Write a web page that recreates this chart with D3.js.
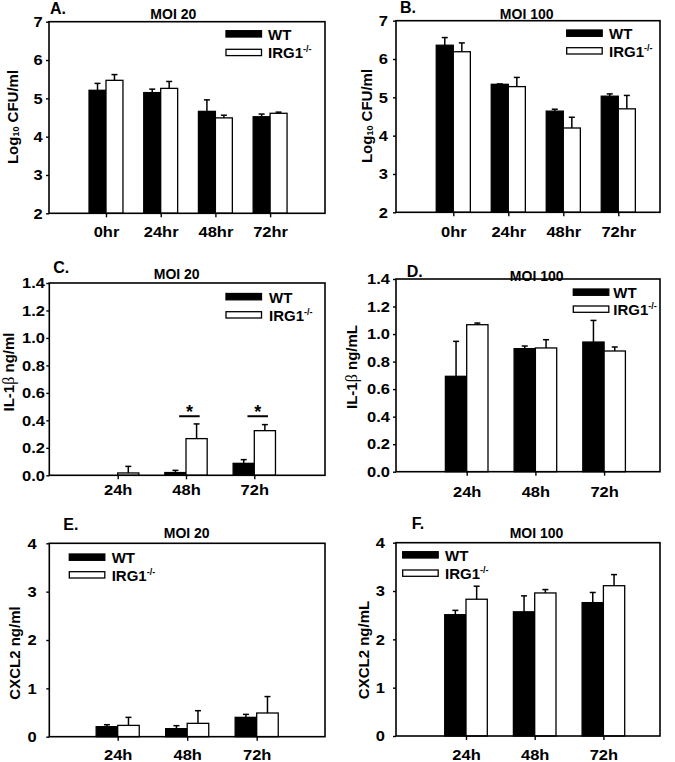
<!DOCTYPE html>
<html><head><meta charset="utf-8">
<script src="https://cdn.jsdelivr.net/npm/d3@7"></script>
<style>
body{margin:0;background:#fff}
svg{display:block}
text{font-family:"Liberation Sans",Arial,sans-serif;font-weight:bold;fill:#000}
.tick text{font-size:15px}
.lbl{font-size:14px}
.leg{font-size:15px}
.ylab{font-size:15px}
.plet{font-size:16px}
</style>
</head><body><svg id="chart" width="675" height="762"></svg>
<script>
// ---------- data ----------
const cfuTimes = ["0hr","24hr","48hr","72hr"];
const cytoTimes = ["24h","48h","72h"];
const seriesNames = ["WT","IRG1"];
const cfuTicks = [2,3,4,5,6,7];
const il1bTicks = [0,0.2,0.4,0.6,0.8,1.0,1.2,1.4];
const cxcl2Ticks = [0,1,2,3,4];

// A. CFU, MOI 20
const cfu20WT = [5.21,5.15,4.66,4.52];
const cfu20WTerr = [0.18,0.09,0.30,0.07];
const cfu20KO = [5.47,5.26,4.49,4.61];
const cfu20KOerr = [0.15,0.18,0.07,0.03];
// B. CFU, MOI 100
const cfu100WT = [6.36,5.34,4.64,5.03];
const cfu100WTerr = [0.20,0.01,0.05,0.06];
const cfu100KO = [6.19,5.28,4.20,4.70];
const cfu100KOerr = [0.23,0.24,0.28,0.35];
// C. IL-1b, MOI 20
const il20WT = [0,0.02,0.087];
const il20WTerr = [0,0.016,0.027];
const il20KO = [0.017,0.267,0.325];
const il20KOerr = [0.048,0.107,0.044];
const il20Sig = ["48h","72h"];
const il20SigLevel = 0.43;
// D. IL-1b, MOI 100
const il100WT = [0.693,0.894,0.942];
const il100WTerr = [0.254,0.019,0.157];
const il100KO = [1.068,0.899,0.877];
const il100KOerr = [0.012,0.06,0.029];
// E. CXCL2, MOI 20
const cx20WT = [0.207,0.166,0.40];
const cx20WTerr = [0.041,0.062,0.062];
const cx20KO = [0.234,0.276,0.49];
const cx20KOerr = [0.166,0.262,0.34];
// F. CXCL2, MOI 100
const cx100WT = [2.51,2.57,2.76];
const cx100WTerr = [0.09,0.33,0.21];
const cx100KO = [2.83,2.96,3.11];
const cx100KOerr = [0.27,0.07,0.23];

// ---------- layout ----------
const svg = d3.select("#chart");
const f1 = d3.format(".1f");
const SX = 1.1;

function stretch(sel, sx) {
  sel.each(function () {
    const t = d3.select(this);
    const x = +t.attr("x") || 0, y = +t.attr("y") || 0;
    t.attr("x", 0).attr("y", 0).attr("transform", `translate(${x},${y}) scale(${sx},1)`);
  });
}

const panels = [
 {letter:"A.", title:"MOI 20", cats:cfuTimes, wt:cfu20WT, wtE:cfu20WTerr, ko:cfu20KO, koE:cfu20KOerr,
  domain:[2,7], ticks:cfuTicks, fmt:d3.format("d"), ylab:[["Log",""],["10","sub"],[" CFU/ml",""]],
  L:{left:49,right:325,top:21.7,bottom:213.3,x0:51.3,step:54.7,pad:3.3,xlab:237,
     let:[50,14], tit:[173.3,19], leg:[226,30.7,49.3,268], yl:[12,117]}},
 {letter:"B.", title:"MOI 100", cats:cfuTimes, wt:cfu100WT, wtE:cfu100WTerr, ko:cfu100KO, koE:cfu100KOerr,
  domain:[2,7], ticks:cfuTicks, fmt:d3.format("d"), ylab:[["Log",""],["10","sub"],[" CFU/ml",""]],
  L:{left:396,right:660,top:20.7,bottom:212.3,x0:398.3,step:55,pad:5,xlab:237,
     let:[400,13.3], tit:[526.7,19.3], leg:[566.7,30,47.7,609], yl:[366,116]}},
 {letter:"C.", title:"MOI 20", cats:cytoTimes, wt:il20WT, wtE:il20WTerr, ko:il20KO, koE:il20KOerr,
  domain:[0,1.4], ticks:il1bTicks, fmt:f1, ylab:[["IL-1",""],["\u03b2","greek"],[" ng/ml",""]],
  sig:il20Sig, sigLevel:il20SigLevel,
  L:{left:49.3,right:325,top:283,bottom:475.3,x0:49.4,step:68.3,pad:1.3,xlab:495,
     let:[53.3,273.3], tit:[176.7,279.3], leg:[226,293.5,311.7,269], yl:[8,372]}},
 {letter:"D.", title:"MOI 100", cats:cytoTimes, wt:il100WT, wtE:il100WTerr, ko:il100KO, koE:il100KOerr,
  domain:[0,1.4], ticks:il1bTicks, fmt:f1, ylab:[["IL-1",""],["\u03b2","greek"],[" ng/mL",""]],
  L:{left:396,right:660,top:279,bottom:471.7,x0:398,step:68.7,pad:3,xlab:496.5,
     let:[406.7,277.3], tit:[536.7,280.7], leg:[573.3,289,306,613.3], yl:[351,367]}},
 {letter:"E.", title:"MOI 20", cats:cytoTimes, wt:cx20WT, wtE:cx20WTerr, ko:cx20KO, koE:cx20KOerr,
  domain:[0,4], ticks:cxcl2Ticks, fmt:d3.format("d"), ylab:[["CXCL2 ng/ml",""]],
  L:{left:49.3,right:325,top:543.3,bottom:736.7,x0:48.2,step:69.5,pad:9.7,xlab:759.5,
     let:[63.3,530], tit:[186.7,538], leg:[69.3,554,571.7,111.7], yl:[13.5,653]}},
 {letter:"F.", title:"MOI 100", cats:cytoTimes, wt:cx100WT, wtE:cx100WTerr, ko:cx100KO, koE:cx100KOerr,
  domain:[0,4], ticks:cxcl2Ticks, fmt:d3.format("d"), ylab:[["CXCL2 ng/mL",""]],
  L:{left:396,right:660,top:542.7,bottom:736,x0:397.3,step:68.7,pad:8,xlab:759.5,
     let:[411.7,529.3], tit:[536.5,538], leg:[402.7,551.7,570,445], yl:[363,650]}}
];

panels.forEach(p => {
  const L = p.L;
  const g = svg.append("g");
  const n = p.cats.length;
  const y = d3.scaleLinear().domain(p.domain).range([L.bottom, L.top]);
  const x = d3.scaleLinear().domain([0, n + 1]).range([L.x0, L.x0 + L.step * (n + 1)]);
  const bw = L.step * 0.31;
  const series = [
    {vals:p.wt, errs:p.wtE, off:-1, fill:"#000"},
    {vals:p.ko, errs:p.koE, off:0, fill:"#fff"}
  ];
  series.forEach(s => {
    const rows = p.cats.map((c, i) => ({i, v:s.vals[i], e:s.errs[i]})).filter(d => d.v > 0);
    g.selectAll(null).data(rows).enter().append("rect")
      .attr("x", d => x(d.i + 1) + s.off * bw)
      .attr("y", d => y(d.v))
      .attr("width", bw)
      .attr("height", d => y(p.domain[0]) - y(d.v))
      .attr("fill", s.fill).attr("stroke", "#000").attr("stroke-width", 1.3);
    const er = rows.filter(d => d.e > 0);
    g.selectAll(null).data(er).enter().append("line")
      .attr("x1", d => x(d.i + 1) + (s.off + 0.5) * bw)
      .attr("x2", d => x(d.i + 1) + (s.off + 0.5) * bw)
      .attr("y1", d => y(d.v)).attr("y2", d => y(d.v + d.e))
      .attr("stroke", "#000").attr("stroke-width", 1.5);
    g.selectAll(null).data(er).enter().append("line")
      .attr("x1", d => x(d.i + 1) + (s.off + 0.5) * bw - 3)
      .attr("x2", d => x(d.i + 1) + (s.off + 0.5) * bw + 3)
      .attr("y1", d => y(d.v + d.e)).attr("y2", d => y(d.v + d.e))
      .attr("stroke", "#000").attr("stroke-width", 1.5);
  });
  // significance
  if (p.sig) {
    p.sig.forEach(c => {
      const i = p.cats.indexOf(c) + 1;
      const x1 = x(i) - 0.1 * L.step, x2 = x(i) + 0.2 * L.step;
      g.append("line").attr("x1", x1).attr("x2", x2)
        .attr("y1", y(p.sigLevel)).attr("y2", y(p.sigLevel))
        .attr("stroke", "#000").attr("stroke-width", 2);
      g.append("text").attr("x", (x1 + x2) / 2).attr("y", y(p.sigLevel) + 2)
        .attr("text-anchor", "middle").style("font-size", "18px").text("*");
    });
  }
  // box
  g.append("rect").attr("x", L.left).attr("y", L.top)
    .attr("width", L.right - L.left).attr("height", L.bottom - L.top)
    .attr("fill", "none").attr("stroke", "#000").attr("stroke-width", 1.6);
  // y axis
  const ya = g.append("g").attr("transform", `translate(${L.left},0)`)
    .call(d3.axisLeft(y).tickValues(p.ticks).tickFormat(p.fmt).tickSize(3).tickPadding(L.pad));
  ya.select(".domain").remove();
  ya.attr("font-family", null).attr("font-size", null);
  ya.selectAll("line").attr("stroke-width", 1.4);
  stretch(ya.selectAll("text"), SX);
  // x axis
  const xa = g.append("g").attr("transform", `translate(0,${L.bottom})`)
    .call(d3.axisBottom(x).tickValues(d3.range(1, n + 1)).tickFormat(i => p.cats[i - 1]).tickSize(4));
  xa.select(".domain").remove();
  xa.attr("font-family", null).attr("font-size", null);
  xa.selectAll("line").attr("stroke-width", 1.4);
  xa.selectAll("text").attr("y", L.xlab - L.bottom).attr("dy", 0);
  stretch(xa.selectAll("text"), SX);
  // panel letter & title
  g.append("text").attr("class", "plet").attr("x", L.let[0]).attr("y", L.let[1]).text(p.letter);
  g.append("text").attr("class", "lbl").attr("x", L.tit[0]).attr("y", L.tit[1])
    .attr("text-anchor", "middle").text(p.title);
  // legend
  const [lx, ly1, ly2, tx] = L.leg;
  [[ly1, "#000", seriesNames[0]], [ly2, "#fff", seriesNames[1]]].forEach(([ly, fill, name], k) => {
    g.append("rect").attr("x", lx).attr("y", ly).attr("width", 35.5).attr("height", 6.3)
      .attr("fill", fill).attr("stroke", "#000").attr("stroke-width", 1.3);
    const t = g.append("text").attr("class", "leg").attr("x", tx).attr("y", ly + 9);
    t.append("tspan").text(name);
    if (k === 1) t.append("tspan").attr("dy", -6).style("font-size", "9px").text("-/-");
  });
  // y label
  const yl = g.append("text").attr("class", "ylab")
    .attr("transform", `translate(${L.yl[0]},${L.yl[1]}) rotate(-90)`)
    .attr("text-anchor", "middle").attr("dominant-baseline", "central");
  p.ylab.forEach(([t, cls]) => {
    if (cls === "sub") yl.append("tspan").attr("dy", 4).style("font-size", "9px").text(t);
    else if (cls === "greek") yl.append("tspan").style("font-family", "'Liberation Serif','DejaVu Serif',serif")
      .style("font-weight", "normal").style("font-size", "16px").text(t);
    else {
      const ts = yl.append("tspan").text(t);
      if (p.ylab.some(q => q[1] === "sub") && t.startsWith(" ")) ts.attr("dy", -4);
    }
  });
});
</script>
</body></html>
